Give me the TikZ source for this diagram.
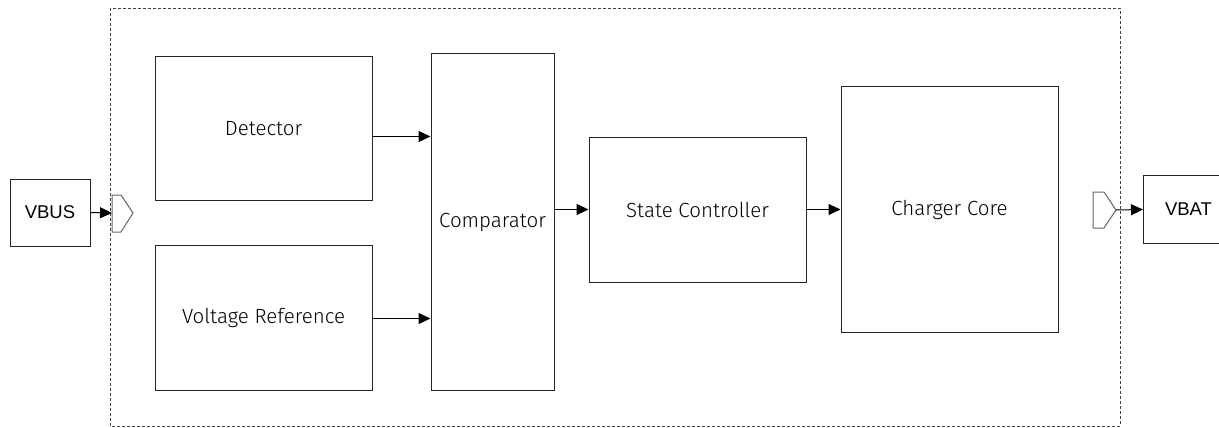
\documentclass[tikz,border=0pt]{standalone}
\usepackage{fontspec}
\setmainfont{Fira Sans Light}
\newfontfamily\portfont{Liberation Sans}
\usetikzlibrary{arrows.meta}
\begin{document}
\begin{tikzpicture}[x=1pt,y=-1pt,
  blk/.style={draw=black!85,line width=1pt,fill=white,inner sep=0pt,font=\fontsize{20.5}{24}\selectfont,text=black},
  ext/.style={blk,font=\portfont\fontsize{18.5}{22}\selectfont},
  port/.style={draw=black!60,line width=1pt,fill=white},
  conn/.style={draw=black,line width=1pt,-{Triangle[length=12pt,width=11pt]}},
  frame/.style={draw=black!75,line width=0.8pt,dash pattern=on 3pt off 2pt}]
\useasboundingbox (0,0) rectangle (1219,428);
\draw[frame] (110,8) rectangle (1120,426);
% blocks
\node[blk,minimum width=217pt,minimum height=143pt] (det) at (263.5,128.5) {\raisebox{-1pt}{Detector}};
\node[blk,minimum width=217pt,minimum height=145pt] (vref) at (263.5,317.5) {\raisebox{-1pt}{Voltage Reference}};
\node[blk,minimum width=123pt,minimum height=336pt] (cmp) at (492.5,222) {\raisebox{-1pt}{Comparator}};
\node[blk,minimum width=217pt,minimum height=145pt] (sc) at (697.5,209.5) {State Controller};
\node[blk,minimum width=217pt,minimum height=245pt] (cc) at (949.5,209.5) {Charger Core};
\node[ext,minimum width=80pt,minimum height=67pt] (vbus) at (50,212.5) {VBUS};
\node[ext,minimum width=90pt,minimum height=68pt,anchor=west] (vbat) at (1143,209.5) {VBAT};
% ports
\coordinate (pin) at (112,213);
\draw[port] (112,195) -- (121,195) -- (133,213) -- (121,232) -- (112,232) -- cycle;
\coordinate (pout) at (1116,210);
\draw[port] (1093,192) -- (1104,192) -- (1116,210) -- (1104,228) -- (1093,228) -- cycle;
% connectors
\draw[conn] (vbus.east) -- (pin);
\draw[conn] (pout) -- (vbat.west);
\draw[conn] (det.east |- 0,136.5) -- (cmp.west |- 0,136.5);
\draw[conn] (vref.east |- 0,318.5) -- (cmp.west |- 0,318.5);
\draw[conn] (cmp.east |- sc.west) -- (sc.west);
\draw[conn] (sc.east) -- (cc.west |- sc.east);
\end{tikzpicture}
\end{document}
